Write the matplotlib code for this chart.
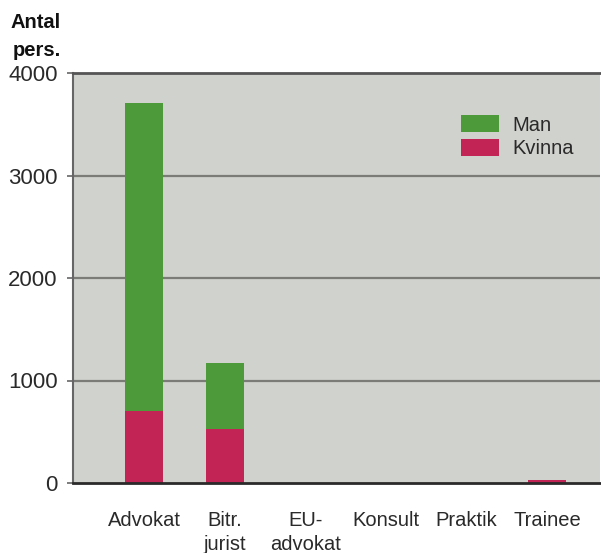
import numpy as np
import matplotlib.pyplot as plt

plt.rcParams['font.family'] = ['Liberation Sans', 'DejaVu Sans']

# data
categories = ["Advokat", "Bitr.\njurist", "EU-\nadvokat", "Konsult", "Praktik", "Trainee"]
kvinna = [705, 530, 0, 0, 0, 25]
man = [3000, 645, 0, 0, 0, 0]
yticks = [0, 1000, 2000, 3000, 4000]

bg = "#d0d2cd"
c_man = "#4c9a3a"
c_kvinna = "#c22555"
grid_c = "#7b7b78"
txt_c = "#2a2a2a"

fig = plt.figure(figsize=(6.01, 5.53), dpi=100)
ax = fig.add_axes([73/601, 70/553, 527/601, 410/553])
ax.set_facecolor(bg)

x = np.arange(len(categories))
ax.bar(x, kvinna, width=0.47, color=c_kvinna, label="Kvinna", zorder=3)
ax.bar(x, man, width=0.47, bottom=kvinna, color=c_man, label="Man", zorder=3)

ax.set_xlim(-0.881, 5.658)
ax.set_ylim(0, 4000)
ax.set_yticks(yticks)
ax.set_yticklabels([str(v) for v in yticks], fontsize=16, color=txt_c)
ax.set_xticks(x)
ax.set_xticklabels(categories, fontsize=14.5, color=txt_c, linespacing=1.35, va="top")
ax.tick_params(axis="x", length=0, pad=20)
ax.tick_params(axis="y", length=4, width=1.2, color="#666666", pad=7)

for v in yticks[1:4]:
    ax.axhline(v, color=grid_c, lw=1.6, zorder=1)

ax.spines["right"].set_visible(False)
ax.spines["top"].set_color("#555555")
ax.spines["top"].set_linewidth(2)
ax.spines["bottom"].set_color("#2a2a2a")
ax.spines["bottom"].set_linewidth(2)
ax.spines["bottom"].set_zorder(4)
ax.spines["left"].set_color("#666666")
ax.spines["left"].set_linewidth(1.5)

handles, labels = ax.get_legend_handles_labels()
leg = ax.legend(handles[::-1], labels[::-1], loc="upper right",
                bbox_to_anchor=(0.965, 0.917), frameon=False, fontsize=14.5,
                handlelength=1.9, handleheight=0.95, handletextpad=0.65,
                labelspacing=0.2, borderaxespad=0)
for t in leg.get_texts():
    t.set_color(txt_c)

fig.text(61/601, 1 - 37/553, "Antal\npers.", ha="right", va="center",
         fontsize=14.5, fontweight="bold", color="#111111", linespacing=1.6)

fig.savefig("out.png", dpi=100)
